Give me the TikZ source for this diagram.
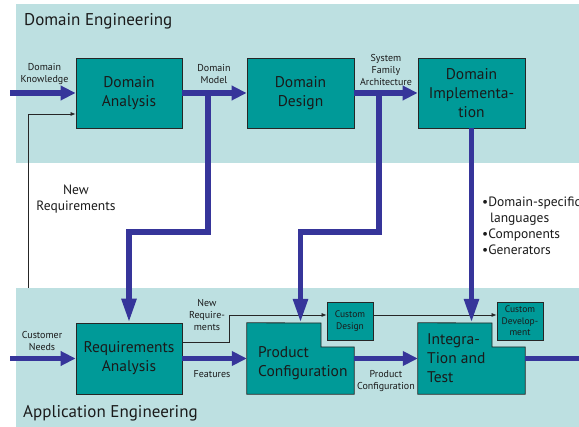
\documentclass[tikz,border=0pt]{standalone}
\usepackage{fontspec}
\setmainfont{PT Sans}
\usetikzlibrary{arrows.meta,calc}
\definecolor{panelcol}{HTML}{BDE0E1}
\definecolor{boxteal}{HTML}{009A98}
\definecolor{arrowblue}{HTML}{36359A}
\definecolor{ink}{HTML}{1A1A1A}
\begin{document}
\begin{tikzpicture}[x=1pt,y=-1pt,
  panelbg/.style={fill=panelcol,draw=none},
  box/.style={draw=black!85,fill=boxteal,line width=0.8pt,text=ink,
    font=\fontsize{15.5}{19}\selectfont,align=center,inner sep=0pt},
  boxtext/.style={text=ink,font=\fontsize{15.5}{19}\selectfont,align=left,inner sep=0pt},
  smallbox/.style={draw=black!85,fill=boxteal,line width=0.8pt,text=ink,
    font=\fontsize{9.5}{11.5}\selectfont,align=center,inner sep=0pt,
    minimum width=46pt,minimum height=38pt},
  small/.style={font=\fontsize{10}{12}\selectfont,align=center,text=ink,inner sep=0pt},
  medium/.style={font=\fontsize{13.5}{16}\selectfont,text=ink,inner sep=0pt},
  title/.style={font=\fontsize{17}{19}\selectfont,text=ink,inner sep=0pt,anchor=west},
  harrow/.style={draw=arrowblue,line width=5.5pt,-{Triangle[length=15pt,width=14pt]}},
  varrow/.style={draw=arrowblue,line width=5.5pt,line join=miter,-{Triangle[length=24pt,width=14pt]}},
  thinline/.style={draw=black!85,line width=0.7pt,-{Latex[length=5pt,width=4pt]}},
]
\useasboundingbox (0,0) rectangle (579,427);
\clip (0,0) rectangle (579,427);

% panels
\fill[panelbg] (16,4) rectangle (579,163);
\fill[panelbg] (16,288) rectangle (579,427);

\node[title] (t1) at (24,21) {Domain Engineering};
\node[title] (t2) at (23,413) {Application Engineering};

% top boxes
\node[box,minimum width=106pt,minimum height=70pt] (DA) at (129,93) {Domain\\Analysis};
\node[box,minimum width=107pt,minimum height=70pt] (DD) at (300.5,93) {Domain\\Design};
\node[box,minimum width=107pt,minimum height=70pt] (DI) at (471.5,93) {Domain\\Implementa-\\tion};

% bottom boxes
\node[box,minimum width=106pt,minimum height=71pt] (RA) at (129,358.5) {Requirements\\Analysis};
\node[inner sep=0pt,minimum width=107pt,minimum height=71pt] (PC) at (300.5,358.5) {};
\node[inner sep=0pt,minimum width=107pt,minimum height=71pt] (IT) at (471.5,358.5) {};
\filldraw[draw=black!85,fill=boxteal,line width=0.8pt]
  (PC.north west) -- (321,323) -- (321,347) -- (PC.east |- 0,347) -- (PC.south east) -- (PC.south west) -- cycle;
\filldraw[draw=black!85,fill=boxteal,line width=0.8pt]
  (IT.north west) -- (492,323) -- (492,347) -- (IT.east |- 0,347) -- (IT.south east) -- (IT.south west) -- cycle;
\node[boxtext,anchor=west] (PCt) at (258,363) {Product\\Configuration};
\node[boxtext,anchor=west] (ITt) at (427,358) {Integra-\\Tion and\\Test};

\node[smallbox] (CD) at (350,321) {Custom\\Design};
\node[smallbox] (CDev) at (520,321) {Custom\\Develop-\\ment};

% input coordinates
\coordinate (dkin) at (10,93);
\coordinate (cnin) at (10,358.5);
\coordinate (out) at (600,358.5);
\coordinate (b1) at (208,93);
\coordinate (b2) at (379,93);
\coordinate (j1) at (129,232);
\coordinate (j2) at (300.5,232);
\coordinate (fb1) at (28,288);
\coordinate (fb2) at (28,114);
\coordinate (nr1) at (229,342);
\coordinate (nr2) at (229,315);

% thin lines
\draw[thinline] (fb1) -- (fb2) -- (DA.west |- fb2);
\draw[thinline] (RA.east |- nr1) -- (nr1) -- (nr2) -- (CD.west |- nr2);
\draw[thinline] (CD.east |- nr2) -- (CDev.west |- nr2);

% thick arrows
\draw[varrow] (b1) |- (j1) -- (RA.north);
\draw[varrow] (b2) |- (j2) -- (PC.north);
\draw[varrow] (DI.south) -- (DI.south |- IT.north);
\draw[harrow] (dkin) -- (DA.west);
\draw[harrow] (DA.east) -- (DD.west);
\draw[harrow] (DD.east) -- (DI.west);
\draw[harrow] (cnin) -- (RA.west);
\draw[harrow] (RA.east) -- (PC.west);
\draw[harrow] (PC.east) -- (IT.west);
\draw[harrow] (IT.east) -- (out);

% small labels
\node[small] (l1) at (44.5,74) {Domain\\Knowledge};
\node[small] (l2) at (214,74) {Domain\\Model};
\node[small] (l3) at (386,70) {System\\Family\\Architecture};
\node[small] (l4) at (42,341) {Customer\\Needs};
\node[small] (l5) at (207,315) {New\\Require-\\ments};
\node[small] (l6) at (212,374) {Features};
\node[small] (l7) at (386,381) {Product\\Configuration};

% medium labels
\node[medium,align=center] (l8) at (76,199) {New\\Requirements};
\node[medium,align=left,anchor=north west] (l9) at (482,197)
  {•Domain-specific\\\hspace*{8pt}languages\\•Components\\•Generators};
\end{tikzpicture}
\end{document}
